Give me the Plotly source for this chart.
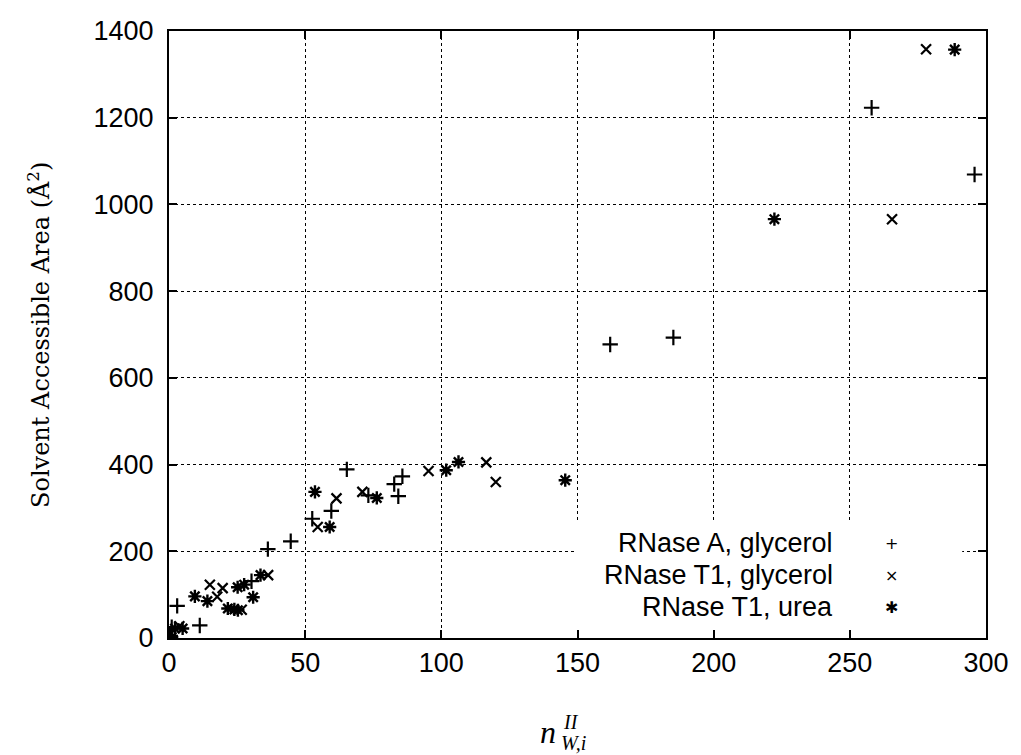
import plotly.graph_objects as go

# ---- data ----
rnaseA_gly_x = [0.5, 1.0, 3.0, 11.3, 30.3, 36.3, 44.7, 52.6, 59.6, 65.3, 73.2, 82.7, 84.2, 85.7, 162.0, 185.2, 258.0, 295.8]
rnaseA_gly_y = [5, 25, 74, 29, 131, 205, 223, 275, 293, 389, 329, 355, 327, 373, 677, 693, 1223, 1069]

rnaseT1_gly_x = [3.8, 15.0, 17.7, 19.7, 26.7, 36.4, 54.6, 61.5, 71.0, 95.3, 116.5, 120.0, 265.5, 278.0]
rnaseT1_gly_y = [27, 123, 95, 115, 65, 145, 256, 322, 337, 385, 405, 360, 966, 1358]

rnaseT1_urea_x = [0.0, 1.0, 2.2, 5.0, 9.5, 14.1, 21.6, 24.0, 25.3, 25.2, 27.6, 30.9, 33.6, 53.6, 59.0, 76.3, 101.8, 106.3, 145.5, 222.3, 288.5]
rnaseT1_urea_y = [6, 2, 22, 22, 96, 85, 68, 66, 64, 117, 123, 94, 145, 337, 256, 323, 387, 406, 364, 966, 1357]

series_names = ["RNase A, glycerol", "RNase T1, glycerol", "RNase T1, urea"]
legend_glyphs = ["+", "\u00d7", "\u2731"]

x_ticks = [0, 50, 100, 150, 200, 250, 300]
y_ticks = [0, 200, 400, 600, 800, 1000, 1200, 1400]

fig = go.Figure()
fig.add_trace(go.Scatter(x=rnaseA_gly_x, y=rnaseA_gly_y, mode="markers", name=series_names[0],
                         marker=dict(symbol="cross-thin-open", size=11, color="black",
                                     line=dict(color="black", width=2.2))))
fig.add_trace(go.Scatter(x=rnaseT1_gly_x, y=rnaseT1_gly_y, mode="markers", name=series_names[1],
                         marker=dict(symbol="x-thin-open", size=10, color="black",
                                     line=dict(color="black", width=2.2))))
fig.add_trace(go.Scatter(x=rnaseT1_urea_x, y=rnaseT1_urea_y, mode="markers", name=series_names[2],
                         marker=dict(symbol="asterisk-open", size=11, color="black",
                                     line=dict(color="black", width=2.4))))

L, R, T, B = 169, 29, 31, 117
W, H = 1021, 755
pw, ph = W - L - R, H - T - B

def px(xp):
    return (xp - L) / pw

def py(yp):
    return (H - B - yp) / ph

axis_common = dict(
    showline=True, linecolor="black", linewidth=2, mirror="ticks",
    ticks="inside", ticklen=8, tickwidth=1.5, tickcolor="black",
    showgrid=True, gridcolor="black", gridwidth=1, griddash="3px,3px",
    zeroline=False,
    tickfont=dict(family="Liberation Sans, Arial, sans-serif", size=27, color="black"),
)

fig.update_xaxes(range=[0, 300], tickvals=x_ticks, ticktext=[str(v) for v in x_ticks], **axis_common)
fig.update_yaxes(range=[0, 1400], tickvals=y_ticks, ticktext=[str(v) for v in y_ticks],
                 ticklabelstandoff=8, **axis_common)

# white legend box covering the grid (no data marks lie in it)
fig.add_shape(type="rect", xref="paper", yref="paper", x0=px(580), x1=px(968), y0=py(628), y1=py(523),
              fillcolor="white", line=dict(width=0), layer="above")

annotations = []
row_y = [543, 575, 607]
for name, glyph, ry in zip(series_names, legend_glyphs, row_y):
    annotations.append(dict(xref="paper", yref="paper", x=px(840), y=py(ry), xanchor="right", yanchor="middle",
                            text=name, showarrow=False,
                            font=dict(family="Liberation Sans, Arial, sans-serif", size=27, color="black")))
    annotations.append(dict(xref="paper", yref="paper", x=px(897), y=py(ry), xanchor="center", yanchor="middle",
                            text=glyph, showarrow=False,
                            font=dict(family="DejaVu Sans, sans-serif", size=16, color="black")))

# y axis title
annotations.append(dict(xref="paper", yref="paper", x=px(38), y=py(335), xanchor="center", yanchor="middle",
                        text="Solvent Accessible Area (\u00c5<sup>2</sup>)", textangle=-90, showarrow=False,
                        font=dict(family="DejaVu Serif, serif", size=24, color="black")))
# x axis title: n^{II}_{W,i}
annotations.append(dict(xref="paper", yref="paper", x=px(551), y=py(732), xanchor="center", yanchor="middle",
                        text="<i>n</i>", showarrow=False,
                        font=dict(family="Liberation Serif, serif", size=32, color="black")))
annotations.append(dict(xref="paper", yref="paper", x=px(564), y=py(722), xanchor="left", yanchor="middle",
                        text="<i>II</i>", showarrow=False,
                        font=dict(family="Liberation Serif, serif", size=20, color="black")))
annotations.append(dict(xref="paper", yref="paper", x=px(562), y=py(743), xanchor="left", yanchor="middle",
                        text="<i>W,i</i>", showarrow=False,
                        font=dict(family="Liberation Serif, serif", size=20, color="black")))

fig.update_layout(
    width=W, height=H,
    margin=dict(l=L, r=R, t=T, b=B),
    plot_bgcolor="white", paper_bgcolor="white",
    showlegend=False,
    annotations=annotations,
)

fig.write_html("out.html")
